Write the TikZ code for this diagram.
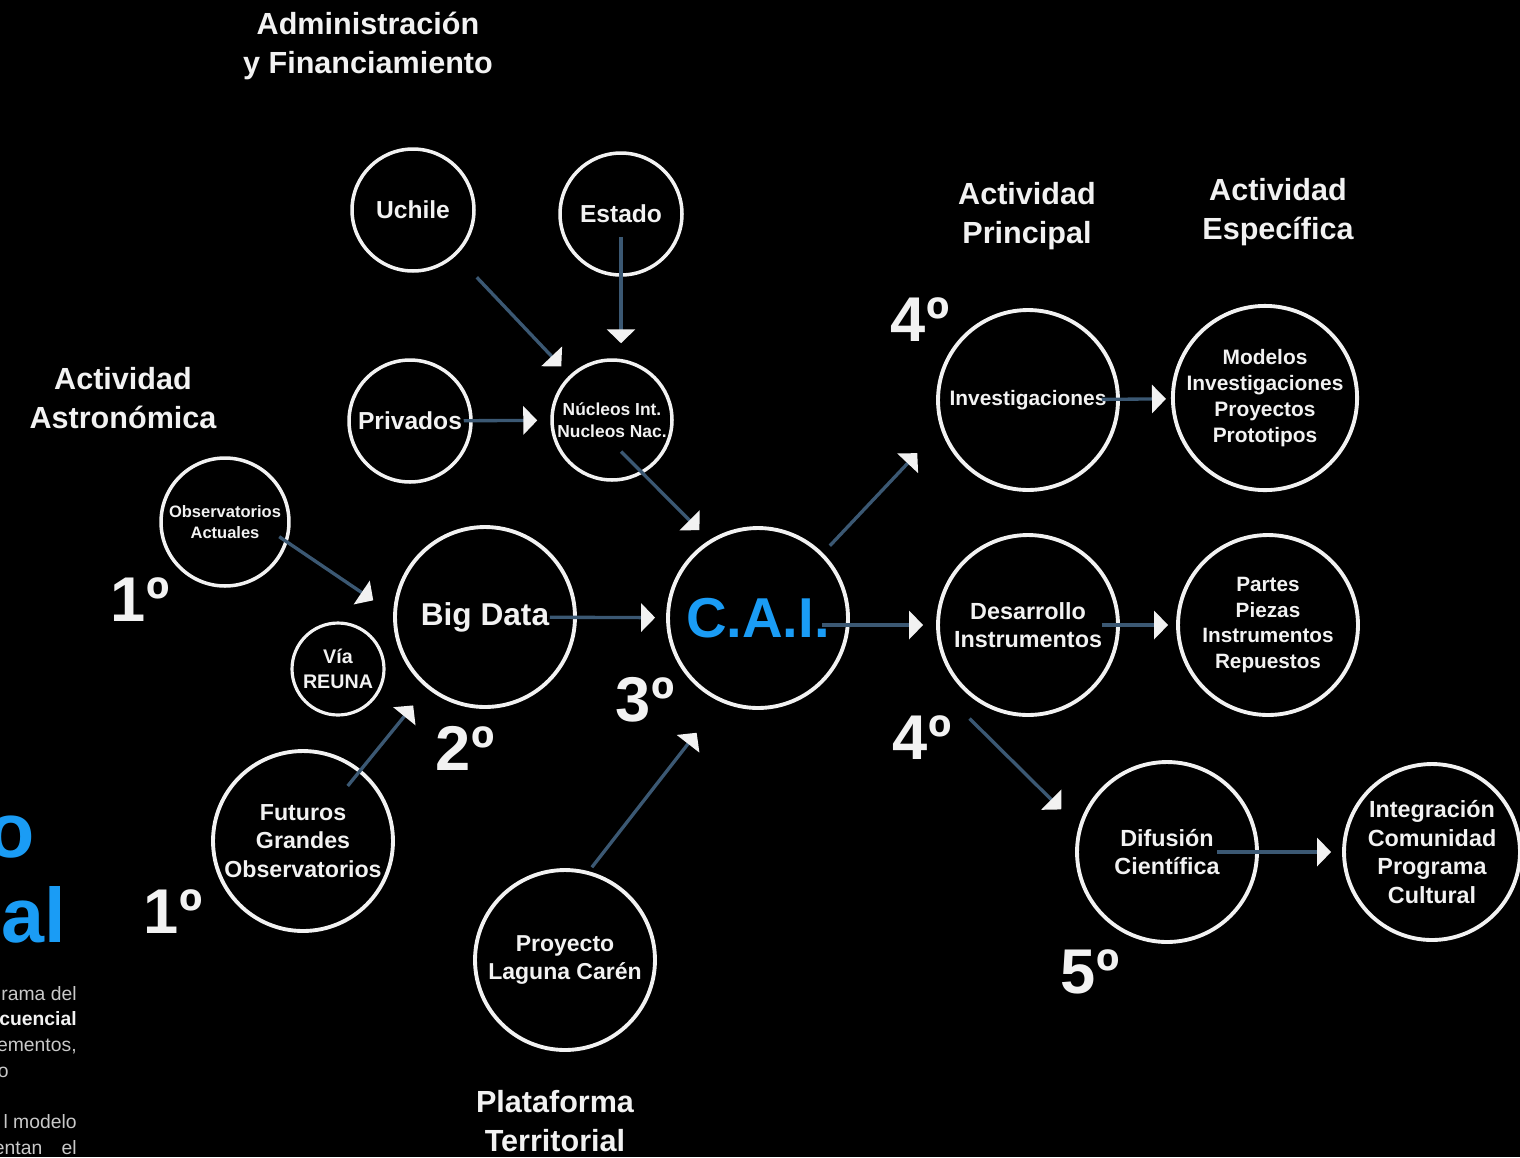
\documentclass[tikz,border=0pt]{standalone}
\usepackage{fontspec}
\setmainfont{Liberation Sans}
\usetikzlibrary{arrows.meta, calc}
\definecolor{ink}{HTML}{F2F2F2}
\definecolor{cai-blue}{HTML}{1A9CF5}
\definecolor{wire}{HTML}{3B5873}
\definecolor{muted}{HTML}{C9C9C9}
\newcommand{\fsz}[2]{\fontsize{#1}{#2}\selectfont}

\begin{document}
\begin{tikzpicture}[x=0.02cm, y=-0.02cm,
  every node/.style={text=ink, font=\bfseries},
  ring/.style={circle, draw=ink, line width=2.2pt, inner sep=0pt, align=center},
  big/.style={ring, minimum size=3.6cm},
  small/.style={ring, line width=2pt, minimum size=2.44cm},
  link/.style={draw=wire, line width=1.9pt,
    -{Triangle[length=0.28cm, width=0.56cm, color=ink, fill=ink]}},
  title/.style={align=center, font=\bfseries\fsz{17.4}{22}},
  rank/.style={inner sep=0pt, font=\bfseries\fsz{36}{36}},
  side/.style={anchor=base east, inner sep=0pt, text=muted, font=\fsz{11}{13}}]
  \fill[black] (0,0) rectangle (1520,1157);
  \useasboundingbox (0,0) rectangle (1520,1157);

  % headings
  \node[title] (adm) at (368,46) {Administración\\y Financiamiento};
  \node[title] (ast) at (123,398) {Actividad\\Astronómica};
  \node[title] (prin) at (1027,216) {Actividad\\Principal};
  \node[title] (esp) at (1278,212) {Actividad\\Específica};
  \node[title] (pla) at (555,1121) {Plataforma\\Territorial};

  % funding
  \node[small, font=\bfseries\fsz{14}{17}] (uch) at (413,210) {Uchile};
  \node[small, font=\bfseries\fsz{14}{17}] (est) at (621,214) {Estado};
  \node[small, font=\bfseries\fsz{14}{17}] (pri) at (410,421) {Privados};
  \node[small, minimum size=2.4cm, font=\bfseries\fsz{9.9}{12.5}] (nuc) at (612,420) {Núcleos Int.\\Nucleos Nac.};

  % astronomy
  \node[small, minimum size=2.56cm, font=\bfseries\fsz{9.4}{11.9}] (obs) at (225,522) {Observatorios\\Actuales};
  \node[big, font=\bfseries\fsz{18}{20}] (bd) at (485,617) {Big Data};
  \node[ring, line width=1.8pt, minimum size=1.84cm, font=\bfseries\fsz{11.2}{14.2}] (via) at (338,669) {Vía\\REUNA};
  \node[big, font=\bfseries\fsz{13.2}{16.4}] (fut) at (303,841) {Futuros\\Grandes\\Observatorios};
  \node[big, text=cai-blue, font=\bfseries\fsz{32}{34}] (cai) at (758,618) {C.A.I.};
  \node[big, font=\bfseries\fsz{13.1}{15.9}] (lag) at (565,960) {Proyecto\\Laguna Carén};

  % activities
  \node[big, font=\bfseries\fsz{11.9}{14}] (inv) at (1028,400) {Investigaciones};
  \node[big, font=\bfseries\fsz{11.9}{14.7}] (mod) at (1265,398) {Modelos\\Investigaciones\\Proyectos\\Prototipos};
  \node[big, font=\bfseries\fsz{13.3}{15.9}] (des) at (1028,625) {Desarrollo\\Instrumentos};
  \node[big, font=\bfseries\fsz{11.8}{14.7}] (par) at (1268,625) {Partes\\Piezas\\Instrumentos\\Repuestos};
  \node[big, font=\bfseries\fsz{13.3}{16.4}] (dif) at (1167,852) {Difusión\\Científica};
  \node[big, minimum size=3.52cm, font=\bfseries\fsz{13.3}{16.2}] (com) at (1432,852) {Integración\\Comunidad\\Programa\\Cultural};

  % order
  \node[rank] (r1a) at (140,600) {1º};
  \node[rank] (r1b) at (173,912) {1º};
  \node[rank] (r2) at (465,748) {2º};
  \node[rank] (r3) at (645,700) {3º};
  \node[rank] (r4a) at (920,320) {4º};
  \node[rank] (r4b) at (922,738) {4º};
  \node[rank] (r5) at (1090,972) {5º};

  % links
  \draw[link, shorten <=0.6cm, shorten >=0.24cm] (uch) -- (nuc);
  \draw[link, shorten <=-0.8cm, shorten >=0.3cm] (est) -- (est |- nuc.north);
  \draw[link, shorten <=-0.18cm, shorten >=0.26cm] (pri) -- (nuc);
  \draw[link, shorten <=-0.62cm, shorten >=0.28cm] (nuc.-60) -- (cai.122);
  \draw[link, shorten <=-0.2cm, shorten >=0.48cm] (obs.-18) -- (bd.178);
  \draw[link, shorten <=-0.42cm, shorten >=0.44cm] (fut) -- (bd);
  \draw[link, shorten <=-0.54cm, shorten >=0.22cm] (bd) -- (cai);
  \draw[link, shorten <=0.1cm, shorten >=0.78cm] (lag.75) -- (cai.-114);
  \draw[link, shorten <=0.2cm, shorten >=0.68cm] (cai.45) -- (inv.-162);
  \draw[link, shorten <=-0.56cm, shorten >=0.26cm] (cai.east |- des) -- (des.west);
  \draw[link, shorten <=-0.36cm, shorten >=0.1cm] (inv) -- (mod);
  \draw[link, shorten <=-0.36cm, shorten >=0.16cm] (des) -- (par);
  \draw[link, shorten >=0.49cm] ($(des)!1.2!(des.-122)$) -- (dif.164);
  \draw[link, shorten <=-0.84cm, shorten >=0.22cm] (dif) -- (com);

  % cut-off text at the left edge
  \node[anchor=base east, inner sep=0pt, text=cai-blue, font=\bfseries\fsz{44}{44}] (tit1) at (35,857) {o};
  \node[anchor=base east, inner sep=0pt, text=cai-blue, font=\bfseries\fsz{44}{44}] (tit2) at (66,942) {nal};
  \node[side] (p1) at (77,1000) {rama del};
  \node[side, text=ink, font=\bfseries\fsz{11}{13}] (p2) at (77,1025) {cuencial};
  \node[side] (p3) at (77,1051) {ementos,};
  \node[side] (p4) at (9,1077) {o};
  \node[side] (p5) at (77,1128) {l modelo};
  \node[side] (p6) at (77,1154) {entan\quad el};
\end{tikzpicture}
\end{document}
